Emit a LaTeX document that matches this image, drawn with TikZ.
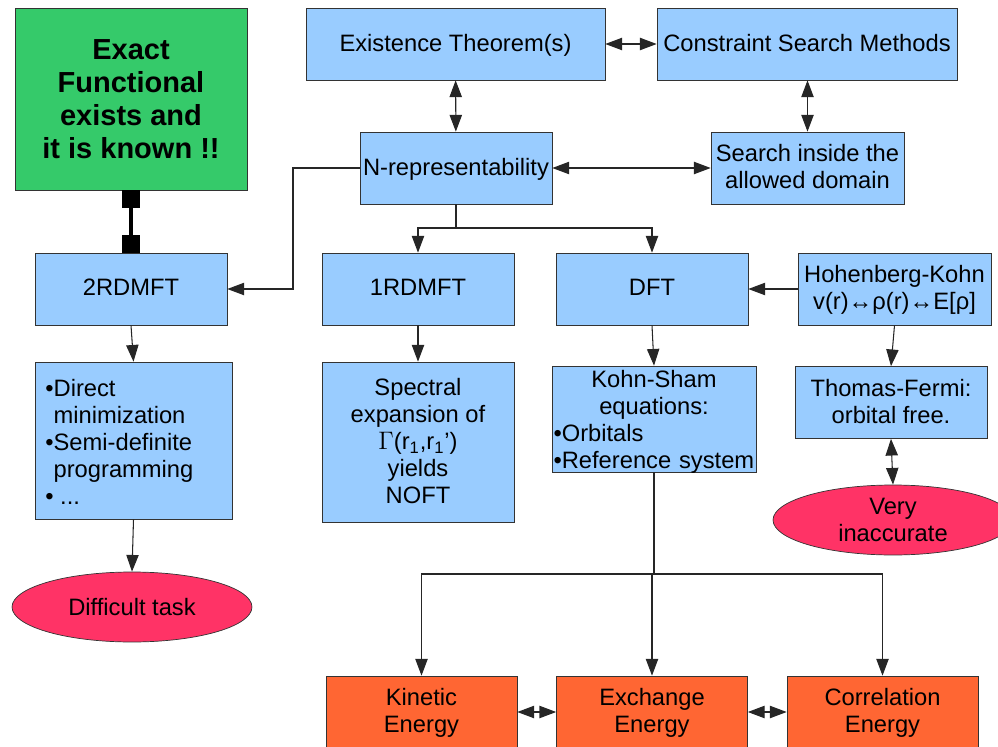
\documentclass[tikz,border=0pt]{standalone}
\usepackage{fontspec}
\setmainfont{Liberation Sans}
\usepackage{tikz}
\usetikzlibrary{shapes.geometric}
\usetikzlibrary{arrows.meta}
\definecolor{boxblue}{HTML}{99CCFF}
\definecolor{exactgreen}{HTML}{35CA6A}
\definecolor{taskred}{HTML}{FF3366}
\definecolor{energyorange}{HTML}{FF6633}

\begin{document}
\begin{tikzpicture}[x=0.02cm,y=-0.02cm,>={Triangle[length=9.5pt,width=7pt]},
font=\fontsize{13.5}{15.4}\selectfont,
blockbox/.style={draw=black!80,fill=boxblue,align=center,inner sep=1pt,
  minimum width=3.84cm,minimum height=1.44cm,text depth=1.5pt},
greenbox/.style={draw=black!80,fill=exactgreen,align=center,
  minimum width=4.64cm,minimum height=3.64cm,
  font=\fontsize{16.5}{18.8}\selectfont\bfseries},
ovalnode/.style={ellipse,draw=black!80,fill=taskred,align=center,
  minimum width=4.8cm,minimum height=1.4cm,inner sep=0pt},
energybox/.style={blockbox,fill=energyorange,minimum width=3.82cm},
conn/.style={draw=black!85,line width=0.6pt}
]
\useasboundingbox (0,0) rectangle (998,747);
\clip (0,0) rectangle (998,747);

% top row
\node[greenbox] (exact) at (131,99) {Exact\\ Functional\\ exists and\\ it is known !!};
\node[blockbox,minimum width=5.98cm] (exist) at (455.5,44) {Existence Theorem(s)};
\node[blockbox,minimum width=6cm] (constr) at (807,44) {Constraint Search Methods};
\node[blockbox] (nrep) at (456,168) {N-representability};
\node[blockbox,minimum width=3.86cm] (search) at (807.5,168) {Search inside the\\ allowed domain};

% methods
\node[blockbox] (rdm2) at (131,289) {2RDMFT};
\node[blockbox] (rdm1) at (418,289) {1RDMFT};
\node[blockbox] (dft) at (652,289) {DFT};
\node[blockbox,minimum width=3.86cm] (hk) at (894.5,289) {Hohenberg-Kohn\\ v(r)↔ρ(r)↔E[ρ]};

\node[blockbox,minimum width=3.94cm,minimum height=3.14cm] (direct) at (133.5,440.5) {};
\node[anchor=north west,align=left,inner sep=0pt] (directtxt) at (45,379)
  {•Direct\\ \phantom{•}minimization\\ •Semi-definite\\ \phantom{•}programming\\ • ...};
\node[blockbox,minimum height=3.2cm] (spectral) at (418,442)
  {Spectral\\ expansion of\\ $\Gamma$(r\textsubscript{1},r\textsubscript{1}')\\ yields\\ NOFT};
\node[blockbox,minimum width=4.08cm,minimum height=2.12cm] (ks) at (654,419) {};
\node[anchor=north,text width=4.02cm,align=left,inner sep=0pt] (kstxt) at (654,370)
  {\centering Kohn-Sham\\ equations:\par\raggedright •Orbitals\\ •Reference system\par};
\node[blockbox] (tf) at (891,402.5) {Thomas-Fermi:\\ orbital free.};

\node[ovalnode] (difficult) at (132,607) {Difficult task};
\node[ovalnode] (inaccurate) at (893,520) {Very\\ inaccurate};

% energies
\node[energybox] (kinetic) at (421.5,712) {Kinetic\\ Energy};
\node[energybox] (exchange) at (652,712) {Exchange\\ Energy};
\node[energybox] (correlation) at (882.5,712) {Correlation\\ Energy};

% connectors
\coordinate (bendL) at (293,168);
\coordinate (splitN) at (456,228);
\coordinate (splitK) at (654,574);

\draw[conn,<->] (exist) -- (constr);
\draw[conn,<->] (exist) -- (nrep);
\draw[conn,<->] (constr.south -| search.north) -- (search.north);
\draw[conn,<->] (nrep) -- (search);
\draw[conn,->] (nrep.west) -- (bendL) |- (rdm2.east);
\draw[conn] (nrep.south) -- (splitN);
\draw[conn,->] (splitN) -| (rdm1.north);
\draw[conn,->] (splitN) -| (dft.north);
\draw[line width=2.3pt,{Square[length=10pt,width=10pt]}-{Square[length=10pt,width=10pt]}] (exact.south) -- (rdm2.north);
\draw[conn,->] (rdm2.south) -- (direct.north);
\draw[conn,->] (direct.south) -- (difficult.north);
\draw[conn,->] (rdm1) -- (spectral);
\draw[conn,->] (dft.south) -- (ks.north);
\draw[conn,->] (hk) -- (dft);
\draw[conn,->] (hk.south) -- (tf.north);
\draw[conn,<->] (tf.south) -- (inaccurate.north);
\draw[conn,line width=1pt] (ks.south) -- (splitK);
\draw[conn,->] (splitK) -| (kinetic.north);
\draw[conn,->] (splitK) -| (exchange.north);
\draw[conn,->] (splitK) -| (correlation.north);
\draw[conn,<->] (kinetic) -- (exchange);
\draw[conn,<->] (exchange) -- (correlation);
\end{tikzpicture}
\end{document}
